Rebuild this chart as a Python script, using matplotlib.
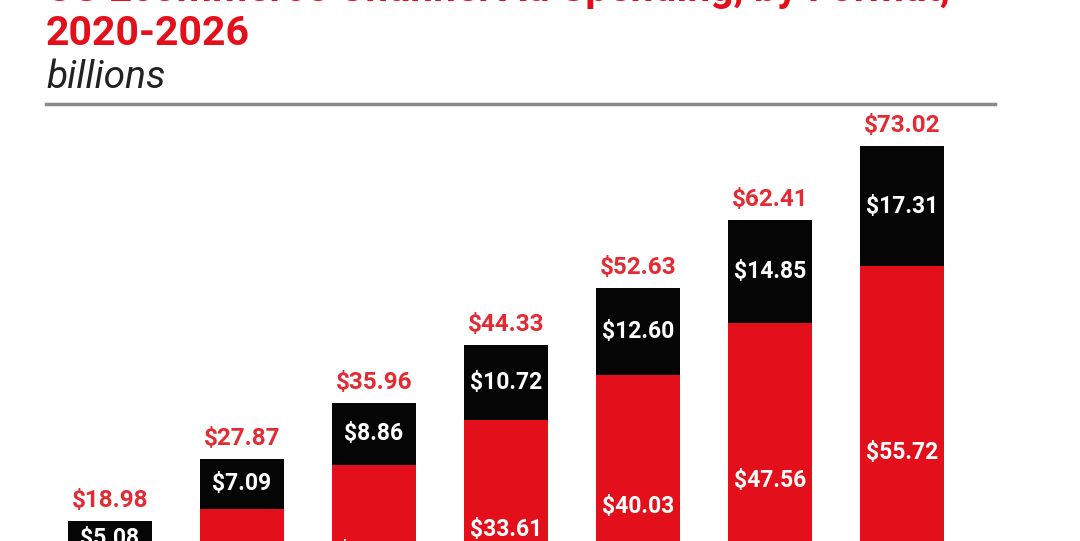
import matplotlib.pyplot as plt

# US ecommerce channel ad spending, stacked by format (billions)
years = ["2020", "2021", "2022", "2023", "2024", "2025", "2026"]
search_vals = [13.90, 20.78, 27.10, 33.61, 40.03, 47.56, 55.72]
other_vals = [5.08, 7.09, 8.86, 10.72, 12.60, 14.85, 17.31]
totals = [18.98, 27.87, 35.96, 44.33, 52.63, 62.41, 73.02]

RED = "#E3101B"
LABEL_RED = "#E42A33"
BLACK = "#050505"
FONT = "Roboto"

fig = plt.figure(figsize=(10.8, 5.41), dpi=100)
ax = fig.add_axes([0, 0, 1, 1])
ax.set_xlim(-0.833, 7.348)
ax.set_ylim(16.1, 94.1)
ax.axis("off")

x = list(range(len(years)))
ax.bar(x, search_vals, width=0.635, color=RED)
ax.bar(x, other_vals, width=0.635, bottom=search_vals, color=BLACK)

for i in x:
    ax.text(i, search_vals[i] / 2 + 1.0, f"${search_vals[i]:.2f}", ha="center", va="center",
            color="white", fontsize=16.5, fontweight="bold", family=FONT)
    ax.text(i, search_vals[i] + other_vals[i] / 2, f"${other_vals[i]:.2f}", ha="center",
            va="center", color="white", fontsize=16.5, fontweight="bold", family=FONT)
    ax.text(i, search_vals[i] + other_vals[i] + 1.3, f"${totals[i]:.2f}", ha="center",
            va="bottom", color=LABEL_RED, fontsize=17.5, fontweight="semibold", family=FONT)

# title block (top line runs off the canvas)
fig.text(46 / 1080, 1 - 1 / 541, "US Ecommerce Channel Ad Spending, by Format,",
         ha="left", va="baseline", color=RED, fontsize=29.5, fontweight="bold", family=FONT)
fig.text(46 / 1080, 1 - 45 / 541, "2020-2026", ha="left", va="baseline",
         color=RED, fontsize=29.5, fontweight="bold", family=FONT)
fig.text(46 / 1080, 1 - 88 / 541, "billions", ha="left", va="baseline",
         color="#222222", fontsize=28, style="italic", family=FONT)
fig.add_artist(plt.Line2D([46 / 1080, 995 / 1080], [1 - 104 / 541] * 2,
                          color="#8a8a8a", lw=2.5))

fig.savefig("out.png", dpi=100)
